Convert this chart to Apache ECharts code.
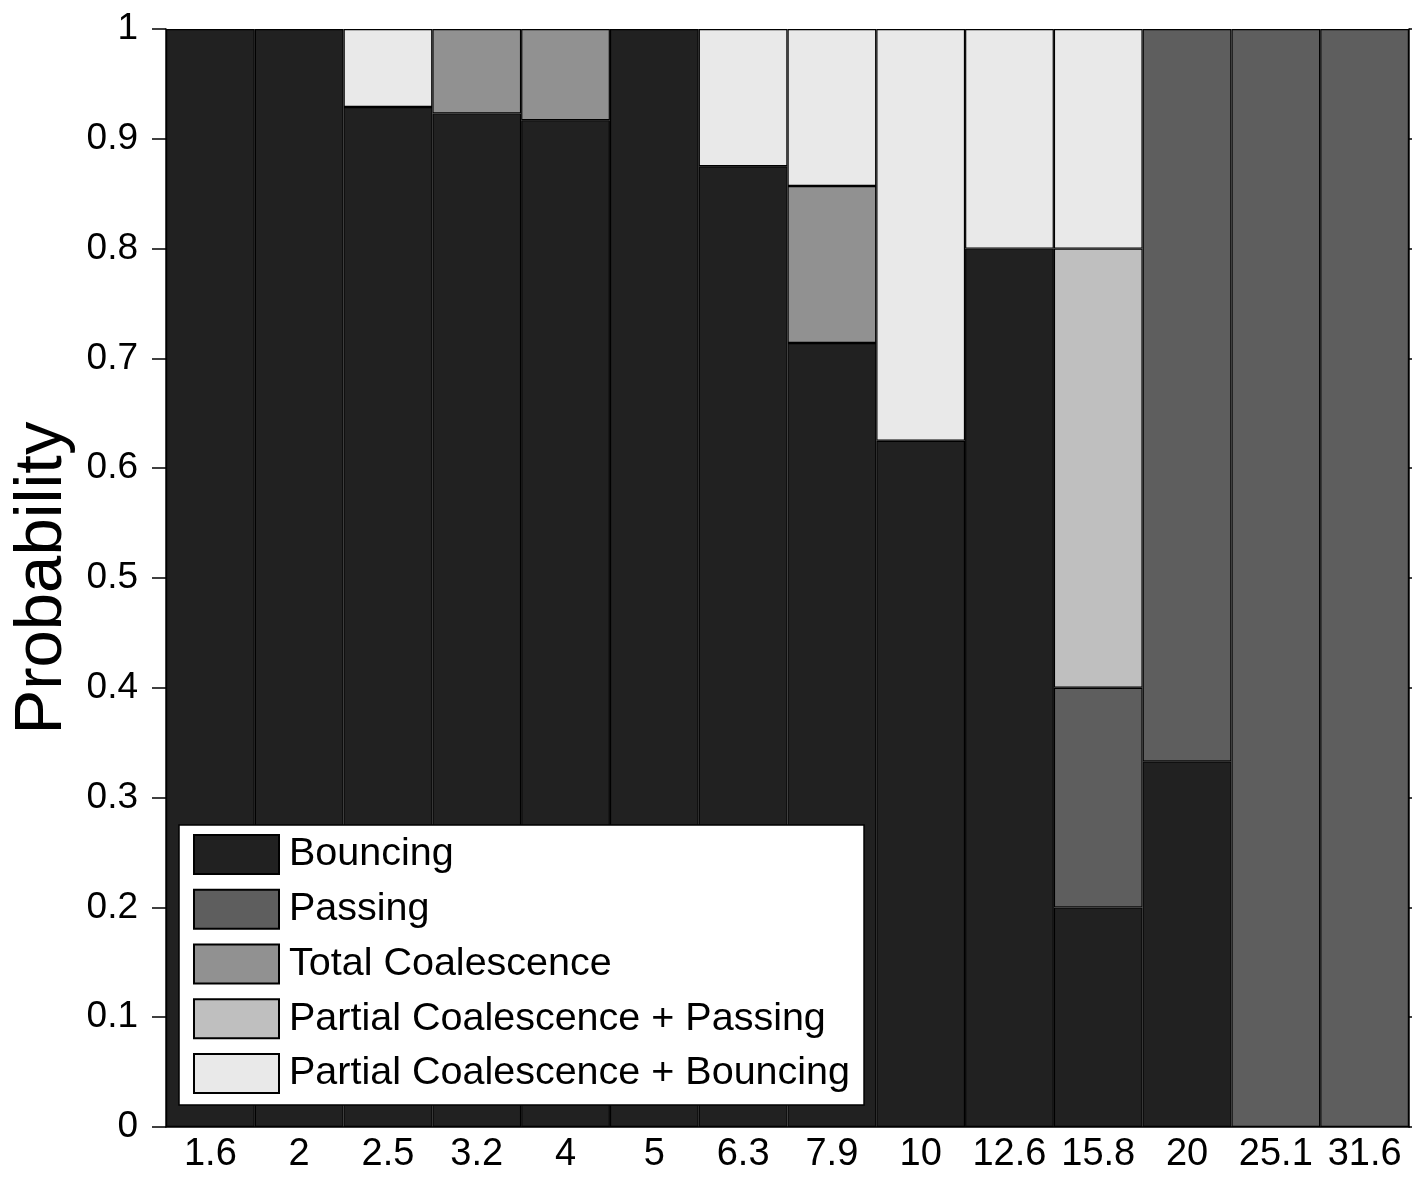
<!DOCTYPE html>
<html>
<head>
<meta charset="utf-8">
<title>Outcome probability</title>
<script src="https://cdn.jsdelivr.net/npm/echarts@6/dist/echarts.min.js"></script>
<style>
  html, body { margin: 0; padding: 0; background: #fff; }
  #chart { width: 1412px; height: 1181px; }
</style>
</head>
<body>
<div id="chart"></div>
<script>
// Categories along the x axis
const categories = ['1.6', '2', '2.5', '3.2', '4', '5', '6.3', '7.9', '10', '12.6', '15.8', '20', '25.1', '31.6'];

// Probability of each outcome per category (stacked bottom to top)
const bouncing           = [1, 1, 0.929, 0.923, 0.917, 1, 0.875, 0.714, 0.625, 0.8, 0.2, 0.333, 0, 0];
const passing            = [0, 0, 0, 0, 0, 0, 0, 0, 0, 0, 0.2, 0.667, 1, 1];
const totalCoalescence   = [0, 0, 0, 0.077, 0.083, 0, 0, 0.143, 0, 0, 0, 0, 0, 0];
const partialPassing     = [0, 0, 0, 0, 0, 0, 0, 0, 0, 0, 0.4, 0, 0, 0];
const partialBouncing    = [0, 0, 0.071, 0, 0, 0, 0.125, 0.143, 0.375, 0.2, 0.2, 0, 0, 0];

// Y axis tick values
const yTicks = [0, 0.1, 0.2, 0.3, 0.4, 0.5, 0.6, 0.7, 0.8, 0.9, 1];

const seriesDefs = [
  { name: 'Bouncing', data: bouncing, color: '#212121' },
  { name: 'Passing', data: passing, color: '#5e5e5e' },
  { name: 'Total Coalescence', data: totalCoalescence, color: '#919191' },
  { name: 'Partial Coalescence + Passing', data: partialPassing, color: '#bfbfbf' },
  { name: 'Partial Coalescence + Bouncing', data: partialBouncing, color: '#e9e9e9' }
];

const FONT = 'Liberation Sans, Arial, sans-serif';

const chart = echarts.init(document.getElementById('chart'), null, { renderer: 'canvas' });

chart.setOption({
  animation: false,
  backgroundColor: '#ffffff',
  grid: { left: 166, right: 3, top: 29, bottom: 54, containLabel: false, outerBoundsMode: 'none' },
  legend: {
    orient: 'vertical',
    left: 179,
    top: 825,
    padding: [9, 14, 11, 14],
    backgroundColor: '#ffffff',
    borderColor: '#000000',
    borderWidth: 1.5,
    borderRadius: 0,
    itemWidth: 85,
    itemHeight: 39,
    itemGap: 13.75,
    icon: 'rect',
    textStyle: { fontFamily: FONT, fontSize: 39.5, lineHeight: 39, color: '#000', padding: [0, 0, 0, 5] },
    data: seriesDefs.map(s => s.name)
  },
  xAxis: {
    type: 'category',
    data: categories,
    axisLine: { show: true, lineStyle: { color: '#000', width: 1.5 } },
    axisTick: { show: false },
    axisLabel: { fontFamily: FONT, fontSize: 38, color: '#000', margin: 9, interval: 0 },
    splitLine: { show: false }
  },
  yAxis: [
    {
      type: 'value',
      min: yTicks[0],
      max: yTicks[yTicks.length - 1],
      interval: 0.1,
      name: 'Probability',
      nameLocation: 'middle',
      nameGap: 88,
      nameTextStyle: { fontFamily: FONT, fontSize: 67, color: '#000' },
      axisLine: { show: true, lineStyle: { color: '#000', width: 1.5 } },
      axisTick: { show: true, inside: false, length: 14, lineStyle: { color: '#000', width: 1.5 } },
      axisLabel: {
        fontFamily: FONT, fontSize: 37, color: '#000', margin: 28,
        formatter: v => String(Math.round(v * 10) / 10)
      },
      splitLine: { show: false }
    },
    {
      type: 'value',
      position: 'right',
      min: yTicks[0],
      max: yTicks[yTicks.length - 1],
      interval: 0.1,
      axisLine: { show: true, lineStyle: { color: '#000', width: 1.5 } },
      axisTick: { show: true, inside: false, length: 6, lineStyle: { color: '#000', width: 1.5 } },
      axisLabel: { show: false },
      splitLine: { show: false }
    }
  ],
  series: seriesDefs.map(s => ({
    name: s.name,
    type: 'bar',
    stack: 'outcome',
    barCategoryGap: '0%',
    data: s.data.map(v => (v === 0 ? '-' : v)),
    itemStyle: { color: s.color, borderColor: '#000', borderWidth: 1.2 },
    emphasis: { disabled: true }
  }))
});
</script>
</body>
</html>
